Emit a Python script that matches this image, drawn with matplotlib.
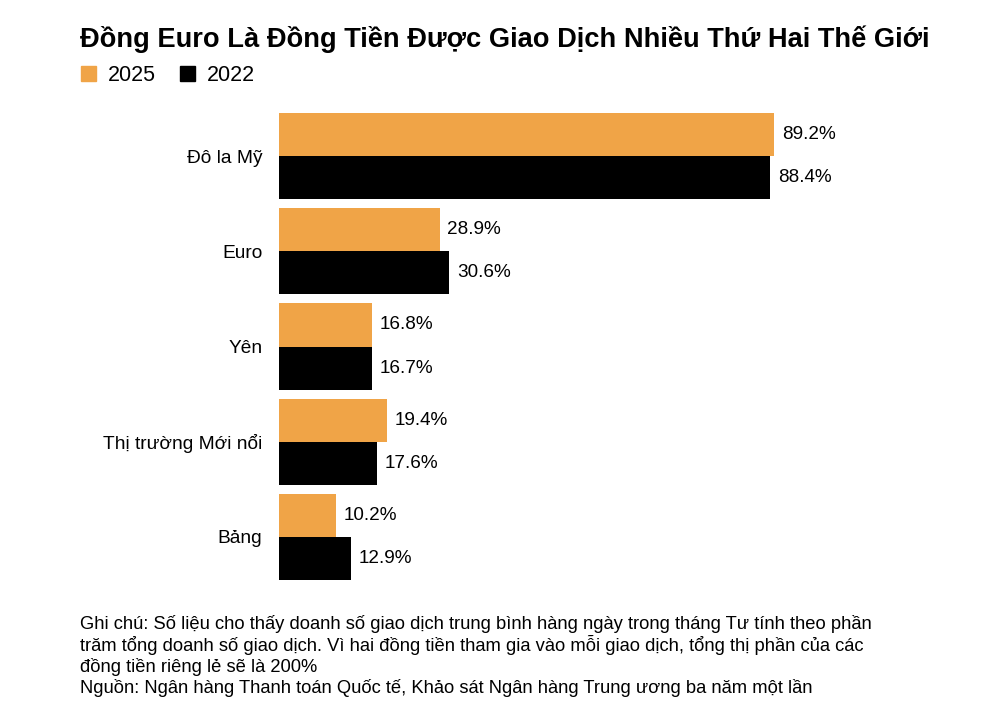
import matplotlib.pyplot as plt
from matplotlib.patches import Patch

categories = ['Đô la Mỹ', 'Euro', 'Yên', 'Thị trường Mới nổi', 'Bảng']
values_2025 = [89.2, 28.9, 16.8, 19.4, 10.2]
values_2022 = [88.4, 30.6, 16.7, 17.6, 12.9]

orange = '#F0A447'
black = '#000000'

plt.rcParams['font.family'] = ['Liberation Sans', 'DejaVu Sans']

fig = plt.figure(figsize=(10, 7.1), dpi=100)
ax = fig.add_axes([0.279, 0.1831, 0.661, 0.6577])

bar_h = 43 / 95
pos = list(range(len(categories)))
ax.barh([p - bar_h / 2 for p in pos], values_2025, height=bar_h, color=orange)
ax.barh([p + bar_h / 2 for p in pos], values_2022, height=bar_h, color=black)

for p, v in zip(pos, values_2025):
    ax.text(v + 1.4, p - bar_h / 2, f'{v:.1f}%', va='center', ha='left', fontsize=13.6)
for p, v in zip(pos, values_2022):
    ax.text(v + 1.4, p + bar_h / 2, f'{v:.1f}%', va='center', ha='left', fontsize=13.6)

ax.set_xlim(0, 119)
ax.set_ylim(len(categories) - 1 + bar_h, -bar_h)
ax.set_yticks(pos)
ax.set_yticklabels(categories, fontsize=13.8)
ax.tick_params(axis='y', length=0, pad=12)
ax.set_xticks([])
for s in ax.spines.values():
    s.set_visible(False)

fig.text(0.08, 0.945, 'Đồng Euro Là Đồng Tiền Được Giao Dịch Nhiều Thứ Hai Thế Giới',
         fontsize=19.6, fontweight='bold', va='center', ha='left')

handles = [Patch(color=orange, label='2025'), Patch(color=black, label='2022')]
fig.legend(handles=handles, loc='center left', bbox_to_anchor=(0.062, 0.893), ncol=2,
           frameon=False, fontsize=15.5, handlelength=0.7, handleheight=0.7,
           handletextpad=0.55, columnspacing=1.1)

note_lines = [
    'Ghi chú: Số liệu cho thấy doanh số giao dịch trung bình hàng ngày trong tháng Tư tính theo phần',
    'trăm tổng doanh số giao dịch. Vì hai đồng tiền tham gia vào mỗi giao dịch, tổng thị phần của các',
    'đồng tiền riêng lẻ sẽ là 200%',
    'Nguồn: Ngân hàng Thanh toán Quốc tế, Khảo sát Ngân hàng Trung ương ba năm một lần',
]
for i, line in enumerate(note_lines):
    fig.text(0.08, 1 - (624 + 21.3 * i) / 710, line, fontsize=13.2, va='center', ha='left')

fig.savefig('out.png', dpi=100, facecolor='white')
